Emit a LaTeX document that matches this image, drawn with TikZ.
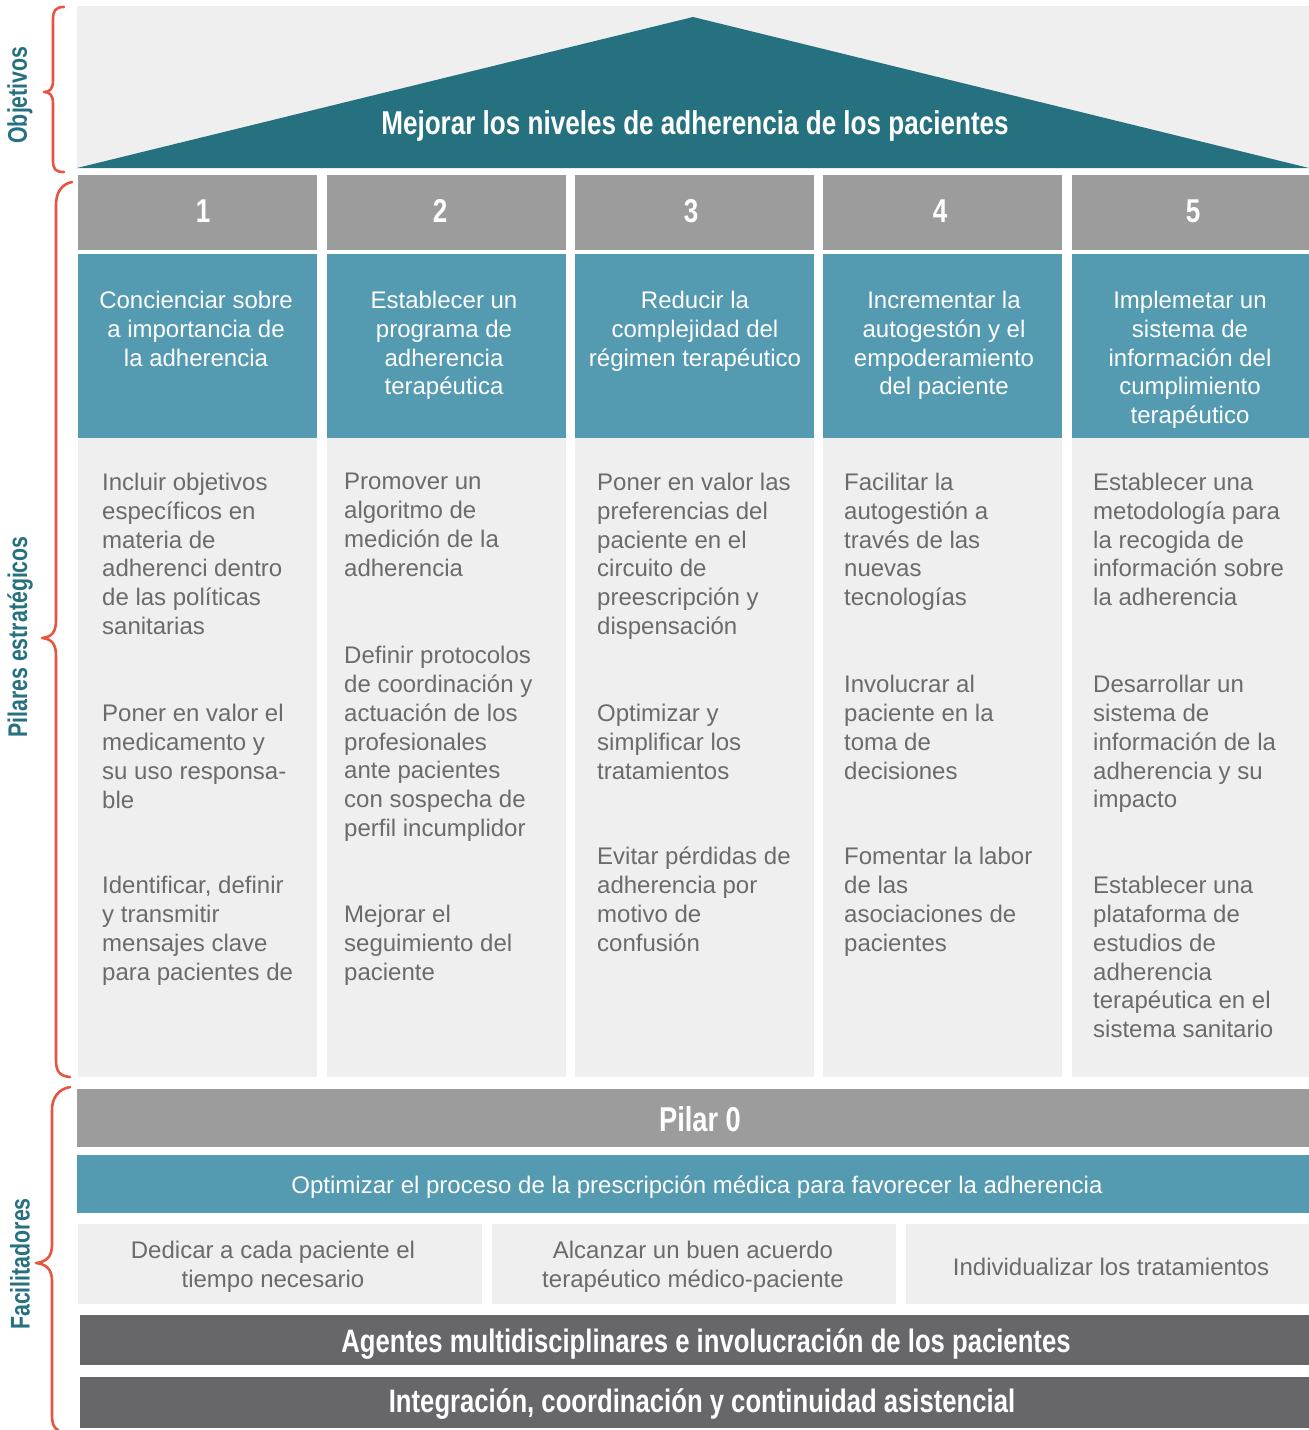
\documentclass[tikz,border=0pt]{standalone}
\usepackage{fontspec}
\setmainfont{Liberation Sans}
\newfontfamily\condfont{Liberation Sans}[FakeStretch=0.79]
\definecolor{tealdark}{HTML}{26717F}
\definecolor{teallight}{HTML}{549AB1}
\definecolor{numgray}{HTML}{9C9C9C}
\definecolor{lightbg}{HTML}{EFEFEF}
\definecolor{darkbar}{HTML}{67676A}
\definecolor{txtgray}{HTML}{6B6B6B}
\definecolor{bracecol}{HTML}{E8553E}
\begin{document}
\begin{tikzpicture}[x=1pt,y=-1pt,
  box/.style={inner sep=0, outer sep=0, anchor=north west, draw=none},
  body/.style={inner sep=0, align=left, anchor=north west, text=txtgray, font=\fontsize{24}{28.8}\selectfont},
  headtxt/.style={inner sep=0, align=center, anchor=north, text=white, font=\fontsize{24}{28.8}\selectfont},
  cond/.style={inner sep=0, text=white, font=\condfont\bfseries\fontsize{33}{36}\selectfont},
  side/.style={inner sep=0, rotate=90, text=tealdark, font=\condfont\bfseries\fontsize{27}{30}\selectfont},
  bracestyle/.style={draw=bracecol, line width=2.6, line cap=round, line join=round}]
\useasboundingbox (0,0) rectangle (1309,1430);
\fill[white] (0,0) rectangle (1309,1430);
% top: objetivos
\node[box, fill=lightbg, minimum width=1232, minimum height=162] (topbg) at (77,6) {};
\fill[tealdark] (77,168) -- (693,17) -- (1309,168) -- cycle;
\node[cond] (goal) at (695,126) {Mejorar los niveles de adherencia de los pacientes};
% columns
\foreach \i/\x/\w in {1/78/239, 2/327/239, 3/575/239, 4/823/239, 5/1072/237}{
  \node[box, fill=numgray, minimum width=\w, minimum height=75] (num\i) at (\x,175) {};
  \node[box, fill=teallight, minimum width=\w, minimum height=184] (head\i) at (\x,254) {};
  \node[box, fill=lightbg, minimum width=\w, minimum height=639] (col\i) at (\x,438) {};
}
\node[cond] (l1) at (203,211) {1};
\node[cond] (l2) at (440,211) {2};
\node[cond] (l3) at (691,211) {3};
\node[cond] (l4) at (940,211) {4};
\node[cond] (l5) at (1193,211) {5};
% head texts
\node[headtxt] (h1) at (196,291) {Concienciar sobre\\a importancia de\\la adherencia};
\node[headtxt] (h2) at (444,291) {Establecer un\\programa de\\adherencia\\terapéutica};
\node[headtxt] (h3) at (695,291) {Reducir la\\complejidad del\\régimen terapéutico};
\node[headtxt] (h4) at (944,291) {Incrementar la\\autogestón y el\\empoderamiento\\del paciente};
\node[headtxt] (h5) at (1190,291) {Implemetar un\\sistema de\\información del\\cumplimiento\\terapéutico};
% column 1
\node[body] (c1a) at (102,473) {Incluir objetivos\\específicos en\\materia de\\adherenci dentro\\de las políticas\\sanitarias};
\node[body] (c1b) at (102,704) {Poner en valor el\\medicamento y\\su uso responsa-\\ble};
\node[body] (c1c) at (102,876) {Identificar, definir\\y transmitir\\mensajes clave\\para pacientes de};
% column 2
\node[body] (c2a) at (344,473) {Promover un\\algoritmo de\\medición de la\\adherencia};
\node[body] (c2b) at (344,646) {Definir protocolos\\de coordinación y\\actuación de los\\profesionales\\ante pacientes\\con sospecha de\\perfil incumplidor};
\node[body] (c2c) at (344,905) {Mejorar el\\seguimiento del\\paciente};
% column 3
\node[body] (c3a) at (597,473) {Poner en valor las\\preferencias del\\paciente en el\\circuito de\\preescripción y\\dispensación};
\node[body] (c3b) at (597,704) {Optimizar y\\simplificar los\\tratamientos};
\node[body] (c3c) at (597,847) {Evitar pérdidas de\\adherencia por\\motivo de\\confusión};
% column 4
\node[body] (c4a) at (844,473) {Facilitar la\\autogestión a\\través de las\\nuevas\\tecnologías};
\node[body] (c4b) at (844,675) {Involucrar al\\paciente en la\\toma de\\decisiones};
\node[body] (c4c) at (844,847) {Fomentar la labor\\de las\\asociaciones de\\pacientes};
% column 5
\node[body] (c5a) at (1093,473) {Establecer una\\metodología para\\la recogida de\\información sobre\\la adherencia};
\node[body] (c5b) at (1093,675) {Desarrollar un\\sistema de\\información de la\\adherencia y su\\impacto};
\node[body] (c5c) at (1093,876) {Establecer una\\plataforma de\\estudios de\\adherencia\\terapéutica en el\\sistema sanitario};
% facilitadores
\node[box, fill=numgray, minimum width=1232, minimum height=58] (pilar) at (77,1089) {};
\node[cond, font=\condfont\bfseries\fontsize{34.5}{36}\selectfont] (pilart) at (700,1119) {Pilar 0};
\node[box, fill=teallight, minimum width=1232, minimum height=58] (optim) at (77,1155) {};
\node[headtxt, anchor=center] (optimt) at (697,1187) {Optimizar el proceso de la prescripción médica para favorecer la adherencia};
\node[box, fill=lightbg, minimum width=404, minimum height=80] (f1) at (78,1224) {};
\node[box, fill=lightbg, minimum width=404, minimum height=80] (f2) at (492,1224) {};
\node[box, fill=lightbg, minimum width=403, minimum height=80] (f3) at (906,1224) {};
\node[headtxt, text=txtgray, anchor=center] (f1t) at (273,1267) {Dedicar a cada paciente el\\tiempo necesario};
\node[headtxt, text=txtgray, anchor=center] (f2t) at (693,1267) {Alcanzar un buen acuerdo\\terapéutico médico-paciente};
\node[headtxt, text=txtgray, anchor=center] (f3t) at (1111,1267) {Individualizar los tratamientos};
\node[box, fill=darkbar, minimum width=1229, minimum height=50] (agent) at (80,1315) {};
\node[cond, font=\condfont\bfseries\fontsize{32.5}{34}\selectfont] (agentt) at (706,1344) {Agentes multidisciplinares e involucración de los pacientes};
\node[box, fill=darkbar, minimum width=1229, minimum height=51] (integ) at (80,1377) {};
\node[cond, font=\condfont\bfseries\fontsize{32.5}{34}\selectfont] (integt) at (702,1404) {Integración, coordinación y continuidad asistencial};
% braces
\draw[bracestyle] (64,7) .. controls (55,7) and (53,11) .. (53,20) -- (53,80) .. controls (53,89) and (50,92) .. (44,92) .. controls (50,92) and (53,95) .. (53,104) -- (53,160) .. controls (53,169) and (55,172) .. (64,172);
\draw[bracestyle] (72,182) .. controls (62,184) and (56,192) .. (56,205) -- (56,620) .. controls (56,632) and (52,637) .. (42,638) .. controls (52,639) and (56,644) .. (56,656) -- (56,1060) .. controls (56,1072) and (60,1076) .. (70,1077);
\draw[bracestyle] (70,1087) .. controls (59,1089) and (52,1097) .. (52,1110) -- (52,1245) .. controls (52,1257) and (46,1262) .. (36,1263) .. controls (46,1264) and (52,1269) .. (52,1281) -- (52,1415) .. controls (52,1424) and (54,1428) .. (58,1430);
% side labels
\node[side] (lobj) at (20,95) {Objetivos};
\node[side] (lpil) at (20,637) {Pilares estratégicos};
\node[side] (lfac) at (20,1264) {Facilitadores};
\end{tikzpicture}
\end{document}
